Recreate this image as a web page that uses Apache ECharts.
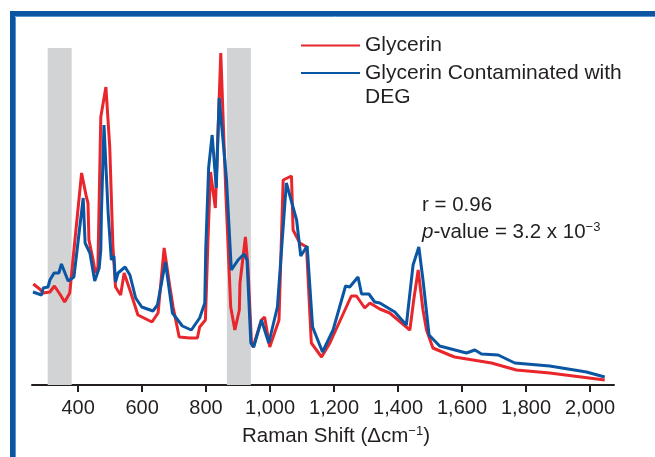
<!DOCTYPE html>
<html>
<head>
<meta charset="utf-8">
<script src="https://cdn.jsdelivr.net/npm/echarts@6/dist/echarts.min.js"></script>
<style>
    html, body { margin: 0; padding: 0; background: #fff; }
    #raman-chart { width: 655px; height: 457px; }
</style>
</head>
<body>
<div id="raman-chart"></div>
<script>
// Raman shift (cm-1) and intensity
var redShift = [260,280,291,312,326,343,358,374,384,411,426,431,434,447,454,462,471,487,499,509,517,533,544,562,587,631,650,669,687,697,716,749,773,780,798,806,814,829,846,862,877,890,904,906,923,931,942,947,973,983,999,1028,1041,1067,1072,1093,1114,1129,1161,1187,1254,1270,1296,1312,1343,1374,1437,1449,1463,1478,1489,1509,1561,1577,1692,1770,1874,2046];
var redIntensity = [101,96,92,93,99,91,83,92,125,212,188,182,145,125,112,118,268,298,238,138,98,90,112,95,70,63,72,137,98,78,48,47,47,58,65,145,213,177,332,190,78,55,75,102,148,118,42,38,65,68,38,65,205,209,155,142,138,42,28,42,89,89,77,82,76,72,55,85,115,75,55,37,30,28,22,15,12,5];

var blueShift = [259,286,291,306,312,325,340,348,369,387,416,422,437,452,466,471,473,481,494,504,512,517,525,547,562,580,599,634,648,673,695,726,754,780,796,799,808,819,832,841,851,864,879,900,919,928,940,949,973,996,1023,1051,1083,1096,1116,1133,1164,1197,1236,1249,1275,1286,1309,1327,1343,1390,1426,1447,1465,1478,1497,1530,1614,1640,1661,1713,1765,1874,1989,2046];
var blueIntensity = [93,90,97,98,105,112,112,121,104,108,187,142,132,104,117,135,172,260,172,125,129,103,112,118,110,87,78,74,80,123,72,59,55,67,82,135,217,250,197,287,252,205,115,125,131,125,42,38,65,42,78,202,165,129,139,58,33,55,99,98,108,91,91,83,82,73,60,120,138,105,50,39,32,35,31,30,22,19,13,8];

var tickValues = [400,600,800,1000,1200,1400,1600,1800,2000];
// grey highlighted regions
var bandStart = [305, 865];
var bandEnd = [380, 940];

var seriesNames = ['Glycerin', 'Glycerin Contaminated with DEG'];

function zip(xs, ys){
    var out = [];
    for(var i = 0; i < xs.length; i++){
        out.push([xs[i], ys[i]]);
    }
    return out;
}

var bands = [];
for(var i = 0; i < bandStart.length; i++){
    bands.push([{xAxis: bandStart[i]}, {xAxis: bandEnd[i]}]);
}

var textFont = '"Liberation Sans", Arial, sans-serif';
var textColor = '#231f20';
var redColor = '#e8262b';
var blueColor = '#0b56a2';

var chart = echarts.init(document.getElementById('raman-chart'));
var option = {
    animation: false,
    backgroundColor: '#fff',
    grid: {
        left: 32,
        right: 41,
        top: 48,
        bottom: 72
    },
    legend: [
        {
            data: [seriesNames[0]],
            left: 301,
            top: 33.5,
            padding: 0,
            icon: 'rect',
            itemWidth: 59,
            itemHeight: 2,
            textStyle: {fontFamily: textFont, fontSize: 21, color: textColor, lineHeight: 24}
        },
        {
            data: [seriesNames[1]],
            left: 301,
            top: 37,
            padding: 0,
            icon: 'rect',
            itemWidth: 59,
            itemHeight: 2,
            // empty first line keeps the icon level with the first text line
            formatter: function(){
                return ' \nGlycerin Contaminated with\nDEG';
            },
            textStyle: {fontFamily: textFont, fontSize: 21, color: textColor, lineHeight: 24}
        }
    ],
    xAxis: {
        type: 'value',
        min: 256,
        max: 2075,
        axisLine: {lineStyle: {color: textColor, width: 2}},
        axisTick: {
            customValues: tickValues,
            length: 7,
            lineStyle: {color: textColor, width: 2}
        },
        axisLabel: {
            customValues: tickValues,
            margin: 13,
            fontFamily: textFont,
            fontSize: 20,
            color: textColor,
            formatter: function(v){
                return v >= 1000 ? Math.floor(v/1000) + ',' + ('00' + (v % 1000)).slice(-3) : String(v);
            }
        },
        splitLine: {show: false}
    },
    yAxis: {
        type: 'value',
        min: 0,
        max: 337,
        show: false
    },
    series: [
        {
            name: seriesNames[0],
            type: 'line',
            data: zip(redShift, redIntensity),
            symbol: 'none',
            color: redColor,
            lineStyle: {color: redColor, width: 3},
            markArea: {
                silent: true,
                itemStyle: {color: '#d1d3d4', opacity: 1},
                data: bands
            }
        },
        {
            name: seriesNames[1],
            type: 'line',
            data: zip(blueShift, blueIntensity),
            symbol: 'none',
            color: blueColor,
            lineStyle: {color: blueColor, width: 3}
        }
    ],
    graphic: [
        // frame
        {
            type: 'rect',
            shape: {x: 12.5, y: 13.5, width: 700, height: 500},
            style: {fill: 'none', stroke: '#0a56a3', lineWidth: 5}
        },
        {
            type: 'polyline',
            shape: {points: [[15.5, 470], [15.5, 16.5], [660, 16.5]]},
            style: {fill: 'none', stroke: '#5b93cf', lineWidth: 1}
        },
        {
            type: 'text',
            x: 422,
            y: 205,
            style: {
                text: 'r = 0.96',
                verticalAlign: 'middle',
                fontFamily: textFont,
                fontSize: 20.5,
                fill: textColor
            }
        },
        {
            type: 'text',
            x: 422,
            y: 232,
            style: {
                text: '{i|p}-value = 3.2 x 10{sup|\u22123}',
                verticalAlign: 'middle',
                fontFamily: textFont,
                fontSize: 20.5,
                fill: textColor,
                rich: {
                    i: {fontFamily: textFont, fontSize: 20.5, fontStyle: 'italic', fill: textColor},
                    sup: {fontFamily: textFont, fontSize: 13, fill: textColor, verticalAlign: 'top', padding: [0, 0, 10, 0]}
                }
            }
        },
        {
            type: 'text',
            x: 336,
            y: 436,
            style: {
                text: 'Raman Shift (\u0394cm{sup|\u22121})',
                align: 'center',
                verticalAlign: 'middle',
                fontFamily: textFont,
                fontSize: 20.5,
                fill: textColor,
                rich: {
                    sup: {fontFamily: textFont, fontSize: 13, fill: textColor, verticalAlign: 'top', padding: [0, 0, 10, 0]}
                }
            }
        }
    ]
};
chart.setOption(option);
</script>
</body>
</html>
